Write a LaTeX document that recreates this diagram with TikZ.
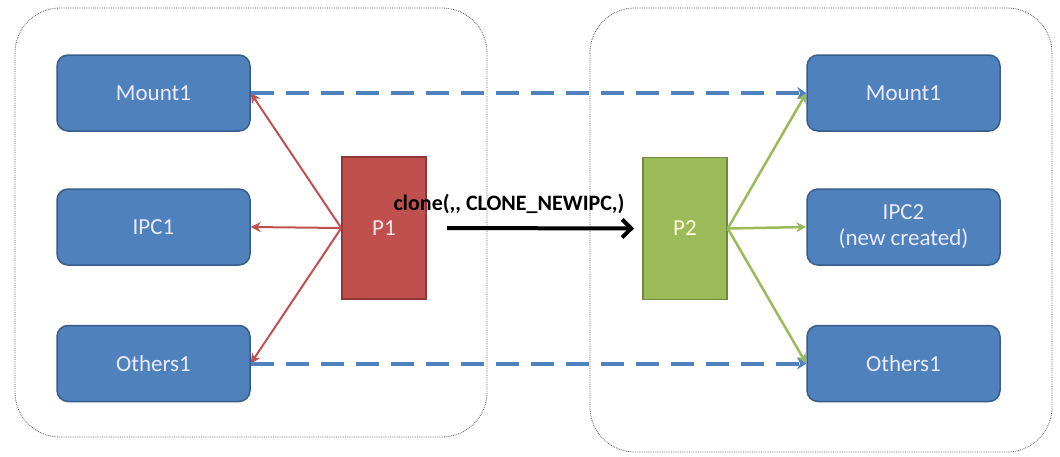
\documentclass[tikz,border=0pt]{standalone}
\usepackage{fontspec}
\setmainfont{Carlito}
\usetikzlibrary{arrows.meta,positioning}
\definecolor{nsblue}{HTML}{4F81BD}
\definecolor{nsblueline}{HTML}{385D8A}
\definecolor{nsred}{HTML}{C0504D}
\definecolor{nsredline}{HTML}{8C3836}
\definecolor{nsgreen}{HTML}{9BBB59}
\definecolor{nsgreenline}{HTML}{71893F}

\begin{document}
\begin{tikzpicture}[x=1pt, y=-1pt,
	ns/.style = {draw=nsblueline, line width=1.5pt, fill=nsblue, rounded corners=11pt, minimum width=193pt, minimum height=76pt, text=white!92!blue, font=\fontsize{23}{26}\selectfont, align=center},
	proc/.style = {draw, line width=1.5pt, minimum width=84pt, minimum height=142pt, font=\fontsize{23}{26}\selectfont},
	share/.style = {draw=nsblue, line width=4pt, dash pattern=on 23pt off 12pt, -{Stealth[length=9pt,width=12pt]}},
	redarrow/.style = {draw=nsred, line width=2pt, -{Stealth[length=10pt,width=10pt]}},
	greenarrow/.style = {draw=nsgreen, line width=2.5pt, -{Stealth[length=10pt,width=10pt]}}]
	\useasboundingbox (0,0) rectangle (1060,456);
	% the two namespaces
	\draw[black!65, line width=0.8pt, densely dotted, rounded corners=45pt] (15,8) rectangle (487,437);
	\draw[black!65, line width=0.8pt, densely dotted, rounded corners=45pt] (590,8) rectangle (1052,452);
	% old namespace
	\node[ns] (mount1) at (153.5,93) {Mount1};
	\node[ns] (ipc1) at (153.5,227) {IPC1};
	\node[ns] (others1) at (153.5,363.5) {Others1};
	\node[proc, draw=nsredline, fill=nsred, text=white!90!red] (p1) at (384,228) {P1};
	% new namespace
	\node[ns] (mount2) at (903.5,93) {Mount1};
	\node[ns] (ipc2) at (903.5,227) {IPC2\\(new created)};
	\node[ns] (others2) at (903.5,363.5) {Others1};
	\node[proc, draw=nsgreenline, fill=nsgreen, text=white!85!yellow] (p2) at (685,228.5) {P2};
	% P1 uses its namespaces
	\draw[redarrow] (p1.west) -- (mount1.east);
	\draw[redarrow] (p1.west) -- (ipc1.east);
	\draw[redarrow] (p1.west) -- (others1.east);
	% P2 uses its namespaces
	\draw[greenarrow] (p2.east) -- (mount2.west);
	\draw[greenarrow] (p2.east) -- (ipc2.west);
	\draw[greenarrow] (p2.east) -- (others2.west);
	% shared ones
	\draw[share] (mount1.east) -- (mount2.west);
	\draw[share] (others1.east) -- (others2.west);
	% the clone call
	\coordinate (callstart) at (447,228);
	\draw[line width=4pt, -{Straight Barb[length=9pt,width=18pt]}] (callstart) -- (p2.west -| 634,0);
	\node[font=\bfseries\fontsize{22}{24}\selectfont, inner sep=0pt] (call) at (509,204) {clone({,}{,} CLONE\_NEWIPC{,})};
\end{tikzpicture}
\end{document}
